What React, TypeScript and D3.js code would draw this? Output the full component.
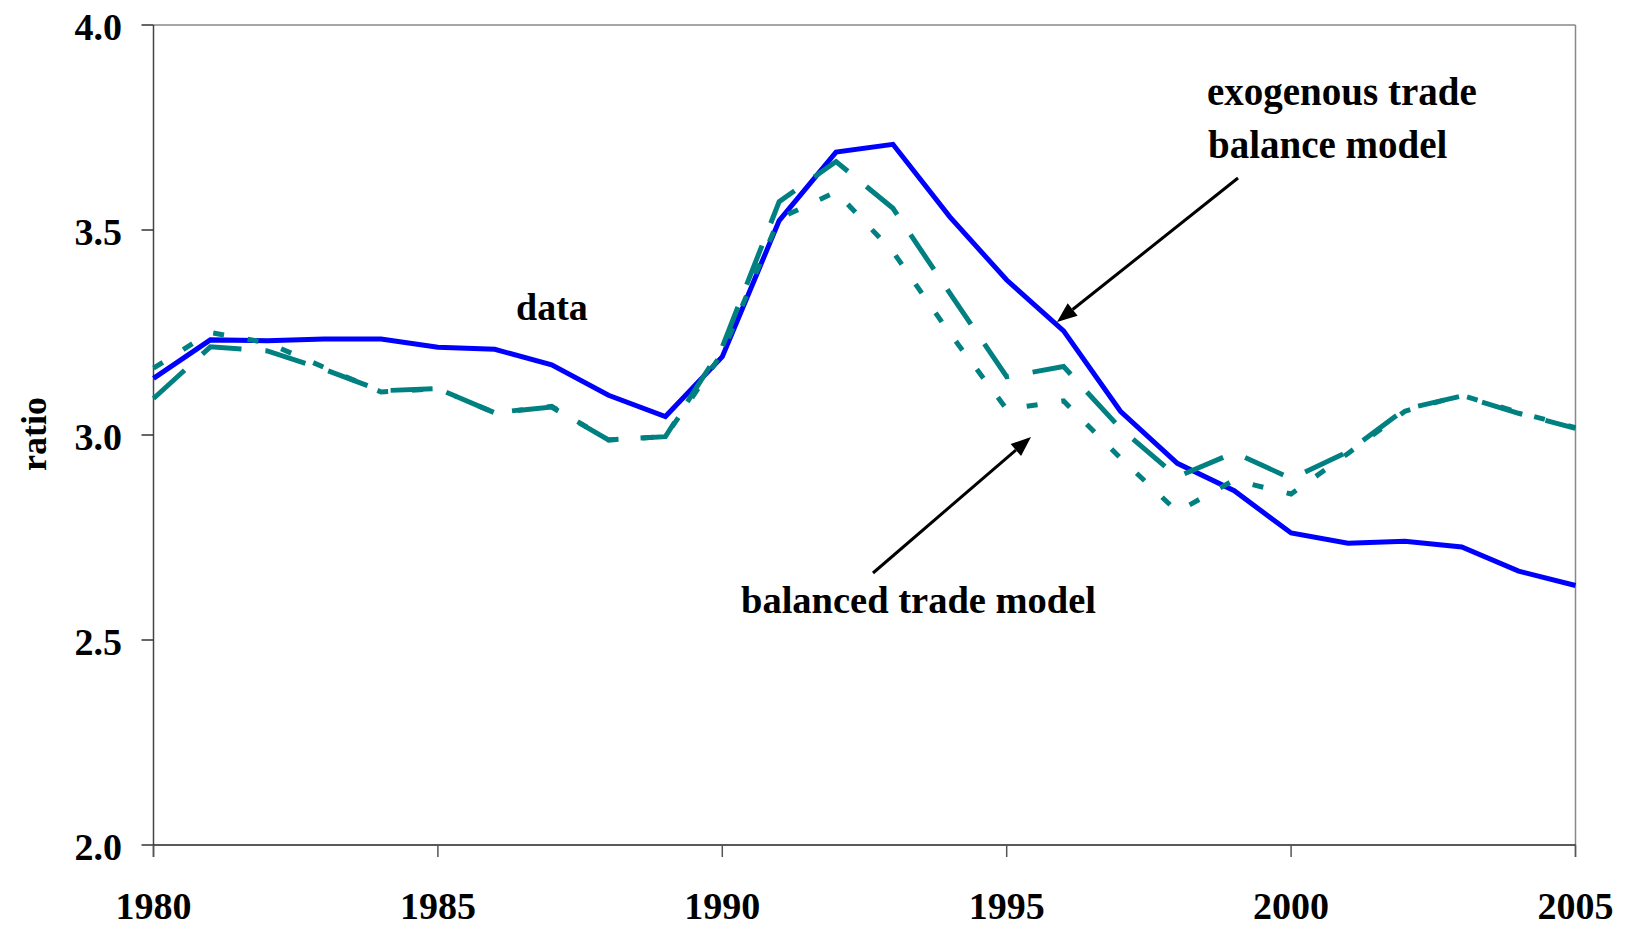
import React from "react";
import * as d3 from "d3";

const years = d3.range(1980, 2006);
const dataSeries = [3.138, 3.232, 3.230, 3.234, 3.234, 3.214, 3.209, 3.171, 3.097, 3.045, 3.191, 3.523, 3.690, 3.709, 3.532, 3.378, 3.254, 3.058, 2.931, 2.864, 2.761, 2.736, 2.741, 2.727, 2.668, 2.633];
const exogenousModel = [3.089, 3.215, 3.205, 3.160, 3.108, 3.113, 3.054, 3.068, 2.988, 2.996, 3.215, 3.569, 3.667, 3.553, 3.346, 3.142, 3.167, 3.016, 2.898, 2.957, 2.894, 2.959, 3.063, 3.095, 3.053, 3.016];
const balancedModel = [3.163, 3.250, 3.225, 3.165, 3.105, 3.113, 3.054, 3.070, 2.988, 2.996, 3.200, 3.528, 3.593, 3.447, 3.248, 3.063, 3.083, 2.944, 2.813, 2.890, 2.856, 2.955, 3.058, 3.097, 3.055, 3.018];
const yTicks = [2.0, 2.5, 3.0, 3.5, 4.0];
const xTicks = [1980, 1985, 1990, 1995, 2000, 2005];

const W = 1629;
const H = 929;
const left = 153.5;
const right = 1575.5;
const top = 25;
const bottom = 845;
const FONT = "'Liberation Serif', 'Times New Roman', serif";

export default function App() {
  const x = d3.scaleLinear().domain([1980, 2005]).range([left, right]);
  const y = d3.scaleLinear().domain([2.0, 4.0]).range([bottom, top]);
  const line = d3
    .line<number>()
    .x((_, i) => x(years[i]))
    .y((v) => y(v));

  const arrow = (x1: number, y1: number, x2: number, y2: number) => {
    const ang = Math.atan2(y2 - y1, x2 - x1);
    const L = 20;
    const w = 8;
    const bx = x2 - L * Math.cos(ang);
    const by = y2 - L * Math.sin(ang);
    const px = -Math.sin(ang) * w;
    const py = Math.cos(ang) * w;
    return (
      <g>
        <line x1={x1} y1={y1} x2={bx} y2={by} stroke="#000" strokeWidth={3} />
        <polygon points={`${x2},${y2} ${bx + px},${by + py} ${bx - px},${by - py}`} fill="#000" />
      </g>
    );
  };

  return (
    <svg
      width={W}
      height={H}
      style={{ position: "absolute", left: 0, top: 0, display: "block", background: "#fff" }}
      fontFamily={FONT}
      fontWeight="bold"
    >
      <rect x={0} y={0} width={W} height={H} fill="#fff" />
      {/* frame */}
      <line x1={left} y1={top} x2={right} y2={top} stroke="#888" strokeWidth={1.5} />
      <line x1={right} y1={top} x2={right} y2={bottom + 12} stroke="#888" strokeWidth={1.5} />
      <line x1={left} y1={top} x2={left} y2={bottom + 12} stroke="#444" strokeWidth={1.5} />
      <line x1={left} y1={bottom} x2={right} y2={bottom} stroke="#222" strokeWidth={1.5} />
      {yTicks.map((t) => (
        <g key={t}>
          <line x1={left - 12} x2={left} y1={y(t)} y2={y(t)} stroke="#333" strokeWidth={1.5} />
          <text x={122} y={y(t) + 15} textAnchor="end" fontSize={38} fill="#000">
            {t.toFixed(1)}
          </text>
        </g>
      ))}
      {xTicks.map((t) => (
        <g key={t}>
          <line x1={x(t)} x2={x(t)} y1={bottom} y2={bottom + 12} stroke="#555" strokeWidth={1.5} />
          <text x={x(t)} y={919} textAnchor="middle" fontSize={38} fill="#000">
            {t}
          </text>
        </g>
      ))}
      <text transform={`translate(46,434) rotate(-90)`} textAnchor="middle" fontSize={36} fill="#000">
        ratio
      </text>

      <path d={line(dataSeries) || ""} fill="none" stroke="#0000FF" strokeWidth={5} strokeLinejoin="miter" />
      <path d={line(exogenousModel) || ""} fill="none" stroke="#008080" strokeWidth={5} strokeDasharray="42,24" />
      <path d={line(balancedModel) || ""} fill="none" stroke="#008080" strokeWidth={5} strokeDasharray="11,24" />

      <text x={516} y={320} fontSize={38} fill="#000">data</text>
      <text x={1207} y={105} fontSize={39} fill="#000">exogenous trade</text>
      <text x={1208} y={158} fontSize={39} fill="#000">balance model</text>
      <text x={741} y={613} fontSize={38.5} fill="#000">balanced trade model</text>

      {arrow(1238, 178, 1057, 322)}
      {arrow(873, 573, 1031, 437)}
    </svg>
  );
}
